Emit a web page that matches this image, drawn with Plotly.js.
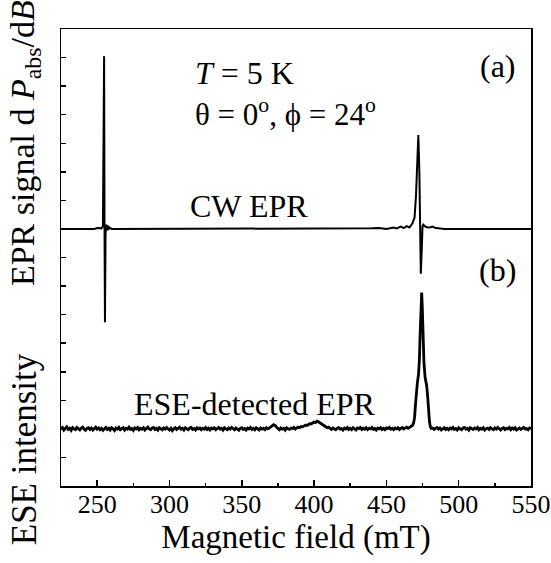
<!DOCTYPE html>
<html>
<head>
<meta charset="utf-8">
<script src="https://cdn.plot.ly/plotly-3.0.1.min.js"></script>
<style>html,body{margin:0;padding:0;background:#fff;}#chart{width:551px;height:563px;}</style>
</head>
<body>
<div id="chart"></div>
<script>
// CW EPR trace (field in mT, arbitrary units, baseline offset 9)
var cwField = [225,230,235,240,245,248,250,252,253,254,254.5,254.8,255.1,255.4,255.8,256.3,256.8,257.3,257.8,258.5,260,
  270,280,300,320,340,360,380,400,420,430,440,445,450,455,457,460,462,464,466,468,469.5,470.5,471.5,472.1,472.8,473.3,473.8,
  474.4,475.0,475.6,476.5,478,480,482,484,486,490,500,520,550];
var cwSignal = [9.00,9.00,9.01,9.00,9.02,9.00,9.03,9.01,9.02,9.10,12.0,15.05,9.0,5.73,8.8,9.15,8.95,9.12,8.97,9.05,9.00,
  9.00,9.00,9.00,9.00,9.00,9.00,9.00,9.00,9.00,9.01,9.02,9.03,9.00,9.05,9.02,9.08,9.03,9.10,9.05,9.20,9.40,10.2,11.5,12.29,11.0,9.0,7.43,
  8.2,9.10,9.15,9.10,9.06,9.05,9.08,9.03,9.02,9.00,9.00,9.00,9.00];

// ESE-detected EPR trace (offset 2)
var eseField = [
  225,226,227,228,229,230,231,232,233,234,235,236,237,238,239,240,241,242,243,244,
  245,246,247,248,249,250,251,252,253,254,255,256,257,258,259,260,261,262,263,264,
  265,266,267,268,269,270,271,272,273,274,275,276,277,278,279,280,281,282,283,284,
  285,286,287,288,289,290,291,292,293,294,295,296,297,298,299,300,301,302,303,304,
  305,306,307,308,309,310,311,312,313,314,315,316,317,318,319,320,321,322,323,324,
  325,326,327,328,329,330,331,332,333,334,335,336,337,338,339,340,341,342,343,344,
  345,346,347,348,349,350,351,352,353,354,355,356,357,358,359,360,361,362,363,364,
  365,366,367,368,369,370,371,372,373,374,375,376,377,378,379,380,381,382,383,384,
  385,386,387,388,389,390,391,392,393,394,395,396,397,398,399,400,401,402,403,404,
  405,406,407,408,409,410,411,412,413,414,415,416,417,418,419,420,421,422,423,424,
  425,426,427,428,429,430,431,432,433,434,435,436,437,438,439,440,441,442,443,444,
  445,446,447,448,449,450,451,452,453,454,455,456,457,458,459,460,461,462,463,464,
  465,466,467,468,468.8,469.5,470.2,470.9,471.4,472.2,472.8,473.4,474.0,474.4,474.8,475.4,476.0,476.8,477.9,478.6,
  479.2,479.8,480.4,481,
  482,483,484,485,486,487,488,489,490,491,492,493,494,495,496,497,498,499,500,501,
  502,503,504,505,506,507,508,509,510,511,512,513,514,515,516,517,518,519,520,521,
  522,523,524,525,526,527,528,529,530,531,532,533,534,535,536,537,538,539,540,541,
  542,543,544,545,546,547,548,549,550];
var eseIntensity = [
  2.00,2.05,1.96,2.03,2.07,1.98,2.02,1.95,2.04,2.00,1.97,2.05,2.01,1.96,2.03,2.06,1.99,1.95,2.02,2.04,
  1.98,2.03,1.96,2.01,2.06,1.99,2.03,1.97,2.02,1.95,2.01,2.05,1.98,2.02,1.96,2.04,2.00,1.94,2.03,1.99,
  2.05,1.97,2.01,2.04,1.96,2.02,1.99,2.06,1.98,2.01,1.95,2.03,2.00,2.05,1.97,2.02,1.99,2.04,1.96,2.01,
  2.06,2.00,1.97,2.03,2.05,1.98,2.02,1.96,2.04,2.01,1.97,2.03,1.99,2.05,2.01,1.96,2.02,1.94,2.00,2.04,
  1.98,2.03,2.06,1.99,2.02,1.96,2.04,2.00,1.97,2.03,2.05,1.98,2.01,1.96,2.04,2.00,2.03,1.97,2.02,1.99,
  2.05,1.98,2.02,1.96,2.03,2.00,2.04,1.97,2.01,2.05,1.99,2.02,1.96,2.04,2.00,1.97,2.03,1.99,2.05,2.01,
  1.97,2.03,2.00,1.95,2.02,2.04,1.98,2.01,1.96,2.03,2.00,2.05,1.98,2.02,1.97,2.04,2.00,1.96,2.03,1.99,
  2.02,1.97,2.04,2.00,2.03,2.06,2.10,2.15,2.12,2.05,2.01,1.97,2.03,1.99,2.02,1.96,2.04,2.00,1.98,2.03,
  2.01,2.05,1.99,2.03,2.06,2.04,2.08,2.07,2.11,2.13,2.12,2.16,2.18,2.17,2.21,2.24,2.22,2.27,2.25,2.22,
  2.18,2.14,2.10,2.07,2.04,2.06,2.01,1.98,2.03,2.00,1.97,2.02,2.04,1.99,2.01,1.96,2.03,2.00,2.05,1.98,
  2.02,1.97,2.04,2.00,1.96,2.03,2.01,2.05,1.98,2.02,1.99,2.04,1.97,2.02,2.00,2.05,1.98,2.01,1.96,2.03,
  2.00,2.04,1.98,2.02,1.97,2.03,2.01,2.05,1.99,2.02,1.97,2.03,2.00,2.04,1.98,2.02,2.05,2.00,2.03,2.06,
  2.02,2.05,2.08,2.12,2.20,2.40,2.90,3.40,3.60,3.90,4.40,5.40,6.40,6.77,6.30,5.20,4.30,3.80,3.50,3.10,
  2.60,2.25,2.08,2.02,
  2.03,1.98,2.02,2.05,1.99,2.03,1.96,2.01,2.04,1.98,2.02,1.97,2.03,2.00,2.05,1.98,2.01,1.96,2.04,2.00,
  1.97,2.03,2.05,1.99,2.02,1.96,2.04,2.01,1.98,2.03,2.00,2.05,1.97,2.02,1.99,2.04,1.96,2.01,2.03,1.98,
  2.04,2.00,1.97,2.03,1.99,2.05,2.01,1.96,2.02,2.04,1.98,2.02,2.00,2.05,1.97,2.03,1.99,2.04,1.96,2.01,
  2.03,1.98,2.02,2.05,1.99,2.01,1.97,2.03,2.00];

var xTickVals = [250,300,350,400,450,500,550];
var xTickText = ['250','300','350','400','450','500','550'];

var FONT = "'Liberation Serif', 'Times New Roman', serif";

var traces = [
  {x: cwField, y: cwSignal, type: 'scatter', mode: 'lines', line: {color: '#000', width: 2}, hoverinfo: 'skip'},
  {x: eseField, y: eseIntensity, type: 'scatter', mode: 'lines', line: {color: '#000', width: 2.8}, hoverinfo: 'skip'}
];

var layout = {
  width: 551, height: 563,
  margin: {l: 61, r: 20, t: 29, b: 77},
  paper_bgcolor: '#fff', plot_bgcolor: '#fff',
  showlegend: false,
  font: {family: FONT, color: '#000', size: 26},
  xaxis: {
    range: [225, 550], tickmode: 'array', tickvals: xTickVals, ticktext: xTickText,
    ticks: 'inside', ticklen: 6, tickwidth: 1.5, tickcolor: '#000',
    minor: {ticks: 'inside', dtick: 25, tick0: 225, ticklen: 3, tickwidth: 1.5, tickcolor: '#000', showgrid: false},
    showline: true, linewidth: 1.5, linecolor: '#000', mirror: true,
    showgrid: false, zeroline: false,
    ticklabelstandoff: -6,
    tickfont: {family: FONT, size: 26, color: '#000'},
    title: {text: 'Magnetic field (mT)', font: {family: FONT, size: 33, color: '#000'}, standoff: 6}
  },
  yaxis: {
    range: [0, 16], dtick: 1, tick0: 0, showticklabels: false,
    ticks: 'inside', ticklen: 5, tickwidth: 1.5, tickcolor: '#000',
    showline: true, linewidth: 1.5, linecolor: '#000', mirror: true,
    showgrid: false, zeroline: false
  },
  annotations: [
    {xref: 'paper', yref: 'paper', x: -0.077, y: 0.75, text: 'EPR signal d <i>P</i><sub>abs</sub>/d<i>B</i>', textangle: -90,
     showarrow: false, xanchor: 'center', yanchor: 'middle', font: {family: FONT, size: 34, color: '#000'}},
    {xref: 'paper', yref: 'paper', x: -0.077, y: 0.08, text: 'ESE intensity', textangle: -90,
     showarrow: false, xanchor: 'center', yanchor: 'middle', font: {family: FONT, size: 35, color: '#000'}},
    {xref: 'x', yref: 'y', x: 316, y: 14.45, text: '<i>T</i> = 5 K', showarrow: false, xanchor: 'left', yanchor: 'middle',
     font: {family: FONT, size: 32, color: '#000'}},
    {xref: 'x', yref: 'y', x: 316, y: 13.06, text: 'θ = 0<sup>o</sup>, ϕ = 24<sup>o</sup>', showarrow: false, xanchor: 'left', yanchor: 'middle',
     font: {family: FONT, size: 31, color: '#000'}},
    {xref: 'x', yref: 'y', x: 313, y: 9.8, text: 'CW EPR', showarrow: false, xanchor: 'left', yanchor: 'middle',
     font: {family: FONT, size: 32, color: '#000'}},
    {xref: 'x', yref: 'y', x: 274, y: 2.88, text: 'ESE-detected EPR', showarrow: false, xanchor: 'left', yanchor: 'middle',
     font: {family: FONT, size: 32, color: '#000'}},
    {xref: 'x', yref: 'y', x: 541, y: 14.72, text: '(a)', showarrow: false, xanchor: 'right', yanchor: 'middle',
     font: {family: FONT, size: 32, color: '#000'}},
    {xref: 'x', yref: 'y', x: 541, y: 7.55, text: '(b)', showarrow: false, xanchor: 'right', yanchor: 'middle',
     font: {family: FONT, size: 32, color: '#000'}}
  ]
};

Plotly.newPlot('chart', traces, layout, {staticPlot: true, displayModeBar: false});
</script>
</body>
</html>
